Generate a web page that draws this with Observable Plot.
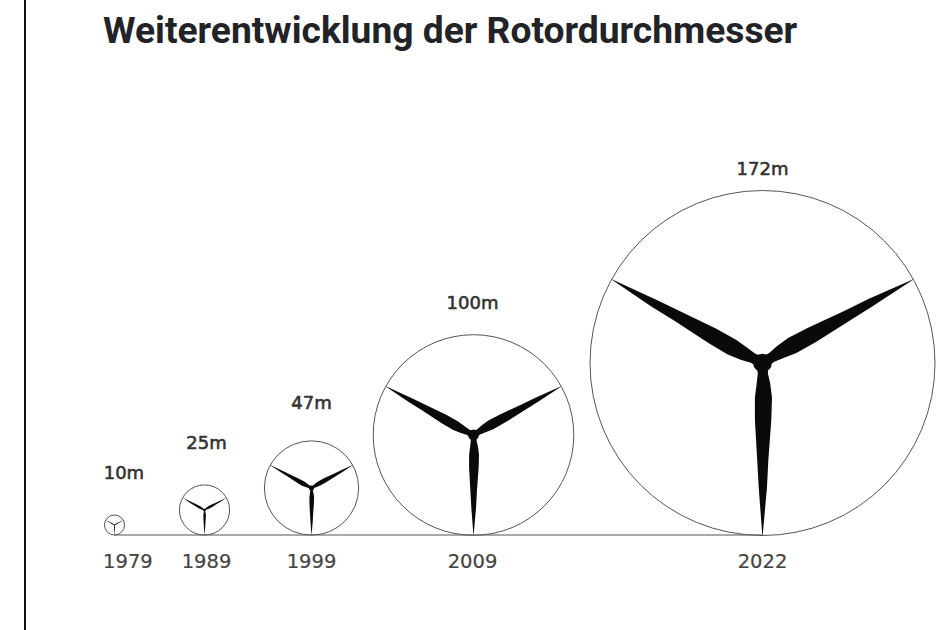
<!DOCTYPE html>
<html lang="de">
<head>
<meta charset="utf-8">
<script src="https://cdn.jsdelivr.net/npm/d3@7"></script>
<script src="https://cdn.jsdelivr.net/npm/@observablehq/plot@0.6"></script>
<style>
  html, body { margin: 0; padding: 0; background: #fff; overflow: hidden; }
  #page { position: relative; width: 952px; height: 630px; }
  #frame { position: absolute; left: 24px; top: 0; width: 2px; height: 630px; background: #111; }
  #title { position: absolute; left: 103px; top: 8px; margin: 0; font: 700 37.2px Roboto, sans-serif; color: #222326; white-space: nowrap; }
  svg { display: block; }
</style>
</head>
<body>
<div id="page">
  <div id="chart"></div>
  <div id="frame"></div>
  <h1 id="title">Weiterentwicklung der Rotordurchmesser</h1>
</div>
<script>
// Rotor diameters in metres, per year
const years = ["1979", "1989", "1999", "2009", "2022"];
const diameters = [10, 25, 47, 100, 172];
const labels = ["10m", "25m", "47m", "100m", "172m"];
// In metres along the baseline from the first hub
const hubAlong = [0, 45, 98.5, 179.5, 324];
const yearAlong = [6.7, 46, 98.5, 179, 324];
const labelAlong = [4.7, 46, 98.5, 179, 324];
// Height of the value labels above the baseline, metres
const labelHeight = [30.7, 45.7, 66, 115.7, 183];
const yearHeight = -13.3;

// Blade outline as fractions of the radius: distance from hub, half width each side
const bladeDist  = [0.03, 0.06, 0.12, 0.20, 0.33, 0.56, 0.72, 1.0];
const bladeRight = [0.033, 0.031, 0.045, 0.055, 0.051, 0.034, 0.026, 0.001];
const bladeLeft  = [0.033, 0.027, 0.034, 0.044, 0.044, 0.031, 0.022, 0.001];
const bladeAngles = [0, 119, 241];
const hubRadius = 0.054;

const rotor = {
  draw(ctx, size) {
    const r = Math.sqrt(size / Math.PI);
    for (const deg of bladeAngles) {
      const a = deg * Math.PI / 180, c = Math.cos(a), s = Math.sin(a);
      const put = (lat, d) => [r * (lat * c - d * s), r * (lat * s + d * c)];
      ctx.moveTo(...put(0, 0));
      bladeDist.forEach((d, i) => ctx.lineTo(...put(bladeRight[i], d)));
      for (let i = bladeDist.length - 1; i >= 0; --i) ctx.lineTo(...put(-bladeLeft[i], bladeDist[i]));
      ctx.closePath();
    }
    ctx.moveTo(r * hubRadius, 0);
    ctx.arc(0, 0, r * hubRadius, 0, 2 * Math.PI);
    ctx.closePath();
  }
};

const idx = d3.range(years.length);
const chart = Plot.plot({
  width: 952,
  height: 630,
  margin: 0,
  style: { background: "#fff" },
  x: { type: "linear", domain: [0, 324], range: [114, 762], axis: null },
  y: { type: "linear", domain: [-47.75, 267.25], range: [630, 0], axis: null },
  r: { type: "linear", domain: [0, 86], range: [0, 172.5] },
  marks: [
    Plot.line([0, hubAlong.length - 1], { x: i => hubAlong[i], y: () => 0, stroke: "#555", strokeWidth: 1.2 }),
    Plot.dot(idx, { x: i => hubAlong[i], y: i => diameters[i] / 2, r: i => diameters[i] / 2, stroke: "#555", strokeWidth: 1, fill: "none" }),
    Plot.dot(idx, { x: i => hubAlong[i], y: i => diameters[i] / 2, r: i => diameters[i] / 2, symbol: rotor, fill: "#0a0a0c", stroke: "none" }),
    Plot.text(idx, { x: i => labelAlong[i], y: i => labelHeight[i], text: i => labels[i], fontFamily: "DejaVu Sans", fontSize: 18, fill: "#333", stroke: "#333", strokeWidth: 0.6 }),
    Plot.text(idx, { x: i => yearAlong[i], y: () => yearHeight, text: i => years[i], fontFamily: "DejaVu Sans", fontSize: 19.5, fill: "#444", stroke: "#444", strokeWidth: 0.2 })
  ]
});
document.getElementById("chart").append(chart);
</script>
</body>
</html>
